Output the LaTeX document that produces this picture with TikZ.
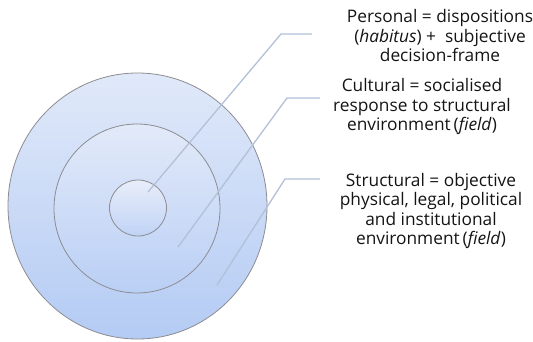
\documentclass[tikz,border=0pt]{standalone}
\usepackage{fontspec}
\setmainfont{Open Sans}
\usetikzlibrary{shapes.geometric}
\definecolor{ringline}{RGB}{140,140,145}
\definecolor{connline}{RGB}{178,192,216}
\definecolor{txt}{RGB}{20,20,20}
\tikzset{
  ring/.style={ellipse, draw=ringline, line width=0.8pt, inner sep=0pt},
  conn/.style={draw=connline, line width=1.3pt, line join=round},
  label/.style={align=center, text=txt, font=\fontsize{17.3}{19.5}\selectfont, inner sep=0pt}
}
\begin{document}
\begin{tikzpicture}[x=1pt,y=-1pt]
\useasboundingbox (0,0) rectangle (533,341);
\node[ring, minimum width=259pt, minimum height=266pt, top color={rgb,255:red,224;green,233;blue,249}, bottom color={rgb,255:red,180;green,203;blue,244}] (outer) at (137.5,206) {};
\node[ring, minimum width=166pt, minimum height=169pt, top color={rgb,255:red,226;green,234;blue,249}, bottom color={rgb,255:red,186;green,207;blue,245}] (middle) at (137,208.5) {};
\node[ring, minimum width=57pt, minimum height=56pt, top color={rgb,255:red,232;green,237;blue,249}, bottom color={rgb,255:red,192;green,211;blue,246}] (inner) at (138,208) {};
% labels
\node[label] (personal) at (440,36) {Personal = dispositions\\(\textit{habitus}) +\ \ subjective\\decision-frame};
\node[label] (cultural) at (422,107) {Cultural = socialised\\response to structural\\environment\,(\textit{field})};
\node[label] (structural) at (431,211) {Structural = objective\\physical, legal, political\\and institutional\\environment\,(\textit{field})};
% connector points
\coordinate (p0) at (148,192);
\coordinate (p1) at (281,34);
\coordinate (p2) at (312,34);
\coordinate (c0) at (178,247);
\coordinate (c1) at (287,98);
\coordinate (c2) at (320,98);
\coordinate (s0) at (217,285);
\coordinate (s1) at (285,179);
\coordinate (s2) at (320,179);
\draw[conn] (p0) -- (p1) -- (p2);
\draw[conn] (c0) -- (c1) -- (c2);
\draw[conn] (s0) -- (s1) -- (s2);
\end{tikzpicture}
\end{document}
